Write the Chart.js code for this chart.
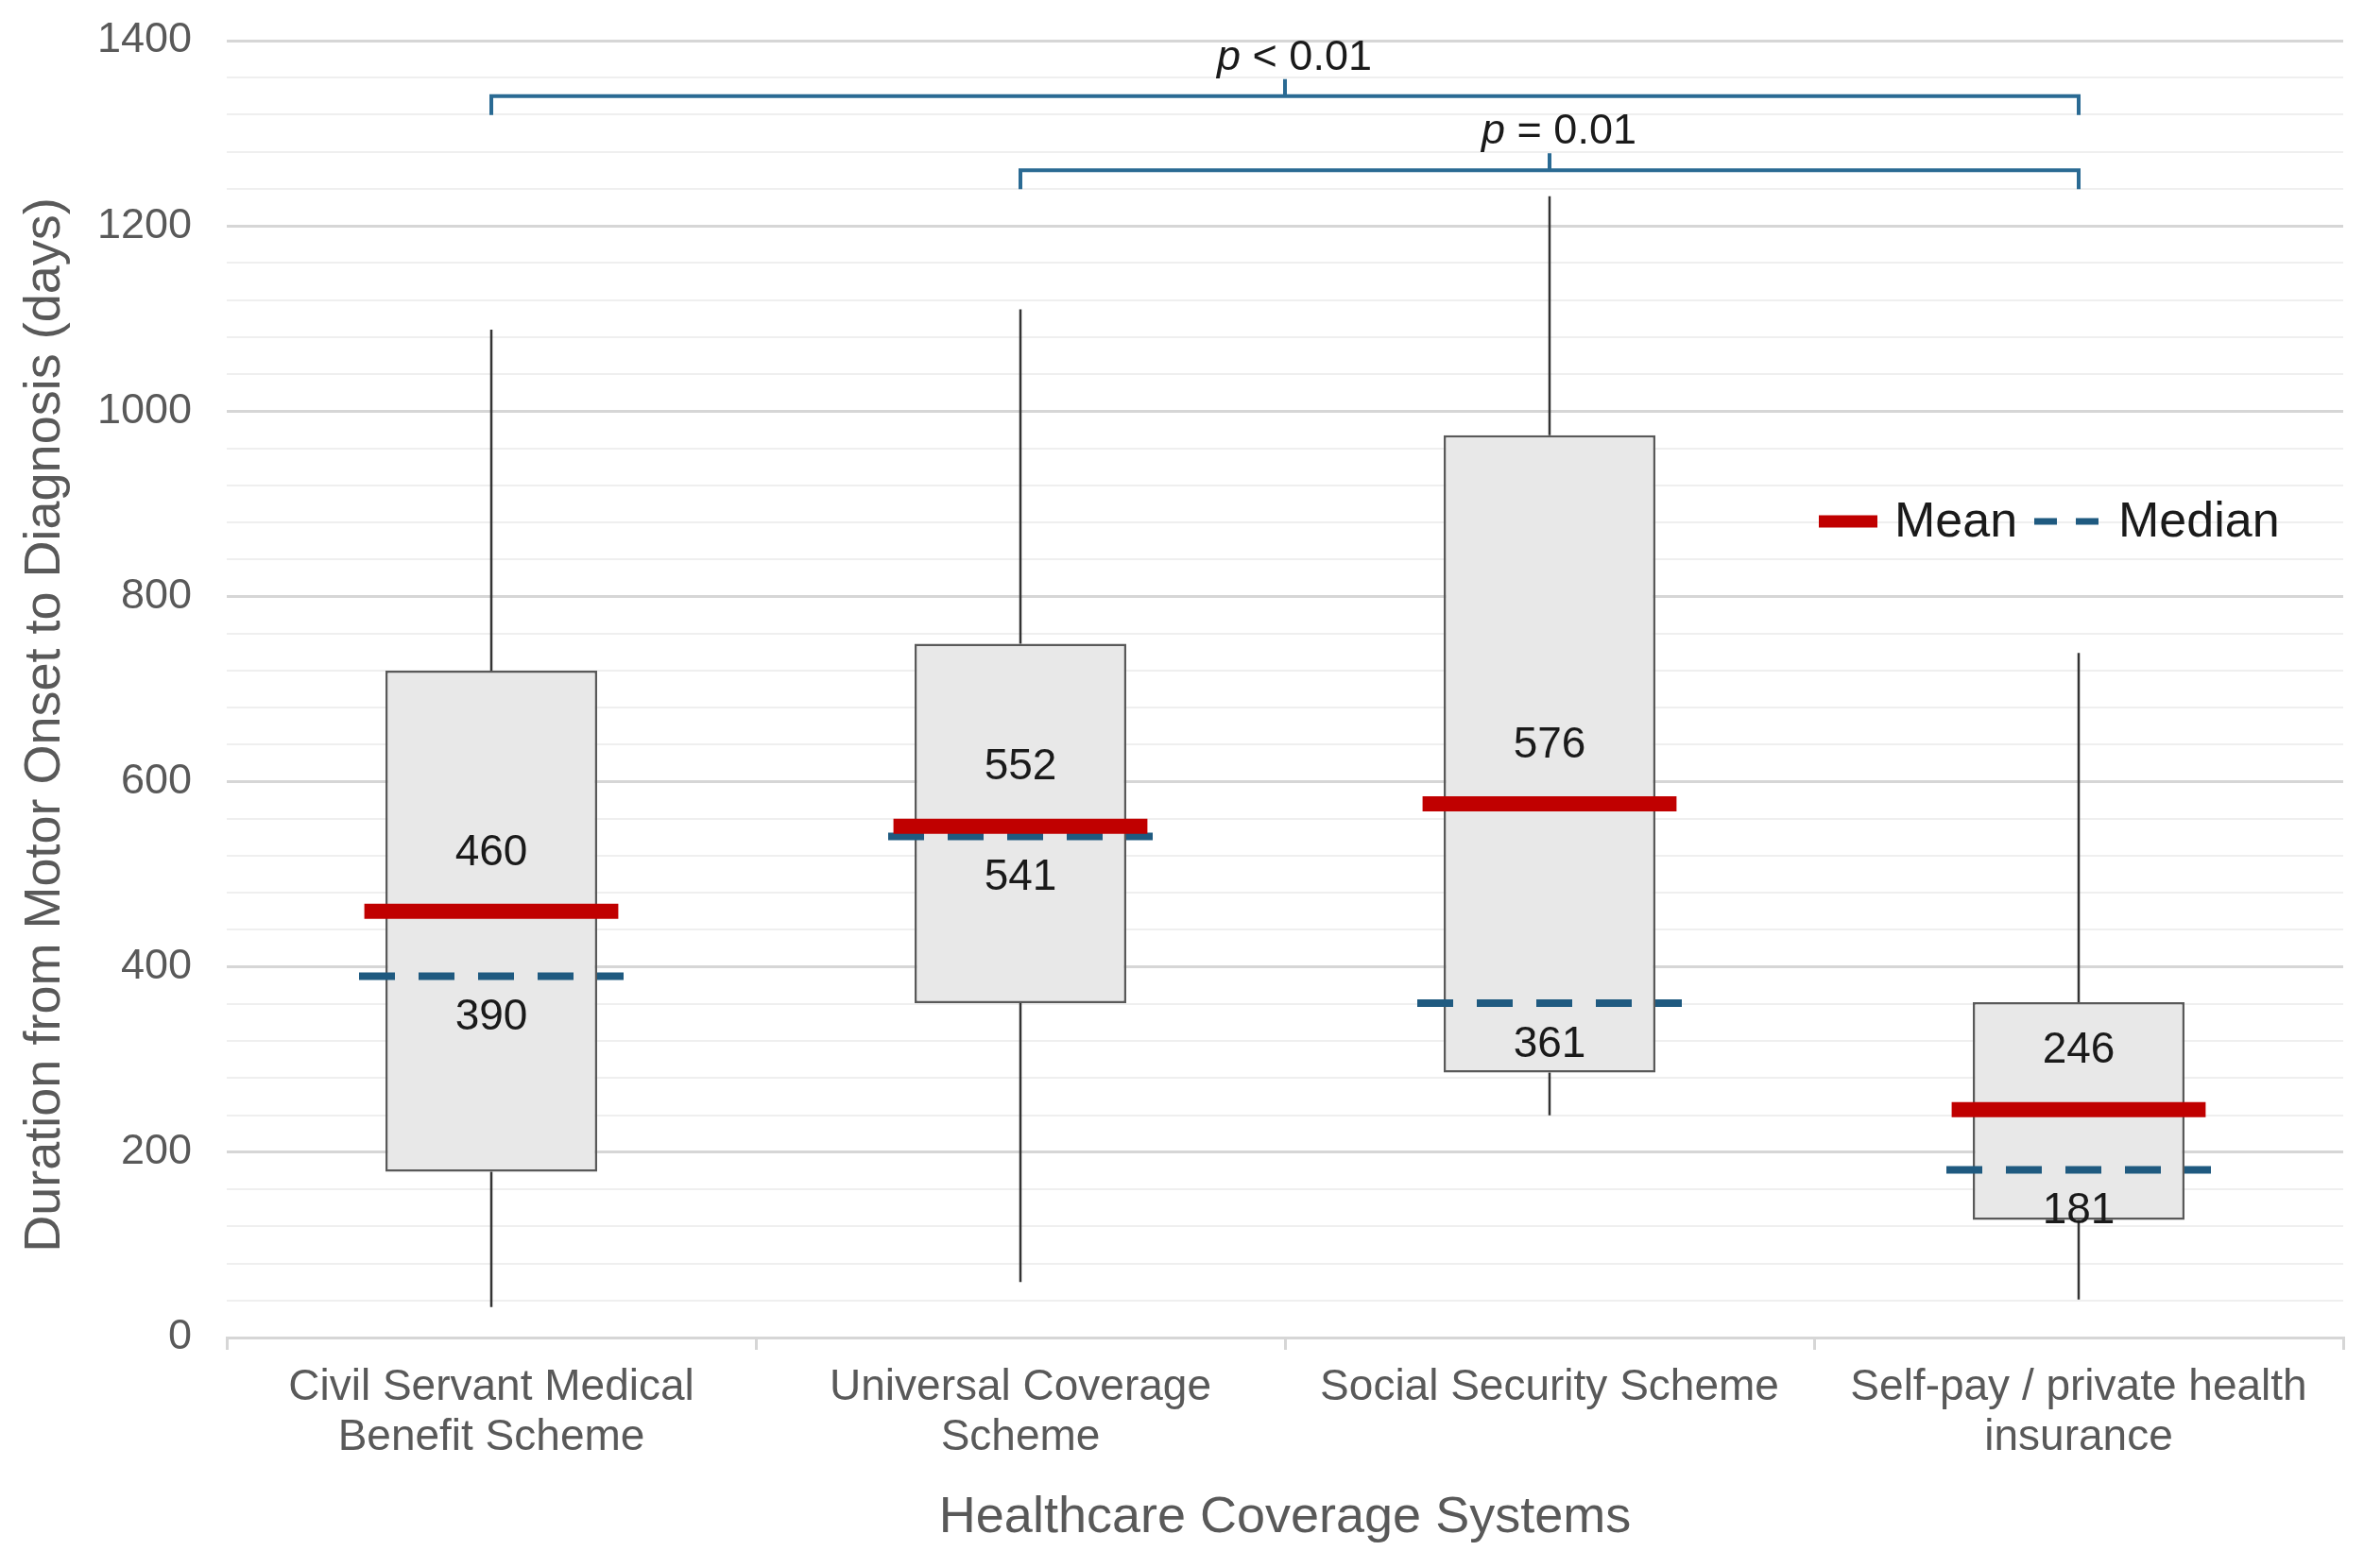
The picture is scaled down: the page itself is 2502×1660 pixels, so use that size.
<!DOCTYPE html>
<html>
<head>
<meta charset="utf-8">
<script src="https://cdn.jsdelivr.net/npm/chart.js@4/dist/chart.umd.min.js"></script>
<style>
html,body{margin:0;padding:0;background:#fff;}
#wrap{width:2502px;height:1660px;}
</style>
</head>
<body>
<div id="wrap"><canvas id="c" width="2502" height="1660"></canvas></div>
<script>
// ---- data ----
const categories = [
  ['Civil Servant Medical', 'Benefit Scheme'],
  ['Universal Coverage', 'Scheme'],
  ['Social Security Scheme'],
  ['Self-pay / private health', 'insurance']
];
const whiskerLow  = [33, 60, 240, 41];
const q1          = [179, 361, 286, 127];
const q3          = [720, 749, 974, 362];
const whiskerHigh = [1088, 1110, 1232, 739];
const meanValues   = [460, 552, 576, 246];
const medianValues = [390, 541, 361, 181];
const yTicksMajor = [0, 200, 400, 600, 800, 1000, 1200, 1400];
const bracketFrom  = [0, 1];
const bracketTo    = [3, 3];
const bracketLevel = [1340, 1260];
const bracketText  = ['< 0.01', '= 0.01'];
const legendLabels = ['Mean', 'Median'];
const yTitle = 'Duration from Motor Onset to Diagnosis (days)';

const FONT = '"Liberation Sans", Arial, sans-serif';
const GREY = '#595959';
const RED = '#c00000';
const BLUE = '#1f5a80';
const BRACKET = '#2a6a93';

const overlay = {
  id: 'overlay',
  beforeDatasetsDraw(chart) {
    const ctx = chart.ctx, x = chart.scales.x, y = chart.scales.y;
    const area = chart.chartArea;
    ctx.save();
    // y axis title
    ctx.fillStyle = GREY;
    ctx.font = '54px ' + FONT;
    ctx.textAlign = 'center';
    ctx.textBaseline = 'middle';
    ctx.translate(48, (area.top + area.bottom) / 2 + 38);
    ctx.rotate(-Math.PI / 2);
    ctx.fillText(yTitle, 0, 0);
    ctx.restore();
    ctx.save();
    ctx.strokeStyle = '#333333';
    ctx.lineWidth = 2.5;
    for (let i = 0; i < categories.length; i++) {
      const px = Math.round(x.getPixelForValue(i));
      ctx.beginPath();
      ctx.moveTo(px, y.getPixelForValue(whiskerLow[i]));
      ctx.lineTo(px, y.getPixelForValue(q1[i]));
      ctx.moveTo(px, y.getPixelForValue(q3[i]));
      ctx.lineTo(px, y.getPixelForValue(whiskerHigh[i]));
      ctx.stroke();
    }
    ctx.restore();
  },
  afterDatasetsDraw(chart) {
    const ctx = chart.ctx, x = chart.scales.x, y = chart.scales.y;
    const area = chart.chartArea;
    const catW = (area.right - area.left) / categories.length;
    ctx.save();
    for (let i = 0; i < categories.length; i++) {
      const px = x.getPixelForValue(i);
      // median dashed
      const ym = y.getPixelForValue(medianValues[i]);
      ctx.strokeStyle = BLUE;
      ctx.lineWidth = 8;
      ctx.setLineDash([38, 25]);
      ctx.beginPath();
      ctx.moveTo(px - catW * 0.25, ym);
      ctx.lineTo(px + catW * 0.25, ym);
      ctx.stroke();
      ctx.setLineDash([]);
      // mean solid
      const ya = y.getPixelForValue(meanValues[i]);
      ctx.strokeStyle = RED;
      ctx.lineWidth = 16;
      ctx.beginPath();
      ctx.moveTo(px - catW * 0.24, ya);
      ctx.lineTo(px + catW * 0.24, ya);
      ctx.stroke();
      // labels
      ctx.fillStyle = '#1a1a1a';
      ctx.font = '46px ' + FONT;
      ctx.textAlign = 'center';
      ctx.textBaseline = 'middle';
      ctx.fillText(String(meanValues[i]), px, ya - 62);
      ctx.fillText(String(medianValues[i]), px, ym + 44);
    }
    // brackets
    for (let b = 0; b < bracketFrom.length; b++) {
      const x1 = x.getPixelForValue(bracketFrom[b]);
      const x2 = x.getPixelForValue(bracketTo[b]);
      const by = y.getPixelForValue(bracketLevel[b]);
      const mid = (x1 + x2) / 2;
      ctx.strokeStyle = BRACKET;
      ctx.lineWidth = 4;
      ctx.beginPath();
      ctx.moveTo(x1, by + 20);
      ctx.lineTo(x1, by);
      ctx.lineTo(x2, by);
      ctx.lineTo(x2, by + 20);
      ctx.moveTo(mid, by);
      ctx.lineTo(mid, by - 18);
      ctx.stroke();
      // text: italic p + rest
      ctx.fillStyle = '#1a1a1a';
      ctx.textBaseline = 'alphabetic';
      ctx.textAlign = 'left';
      const pf = 'italic 45px ' + FONT;
      const rf = '45px ' + FONT;
      ctx.font = pf; const wp = ctx.measureText('p').width;
      ctx.font = rf; const wr = ctx.measureText(' ' + bracketText[b]).width;
      const tx = mid + 10 - (wp + wr) / 2;
      const ty = by - 28;
      ctx.font = pf; ctx.fillText('p', tx, ty);
      ctx.font = rf; ctx.fillText(' ' + bracketText[b], tx + wp, ty);
    }
    // legend
    const ly = area.top + 509;
    const lx = area.right - 555;
    ctx.strokeStyle = RED;
    ctx.lineWidth = 13;
    ctx.beginPath();
    ctx.moveTo(lx, ly); ctx.lineTo(lx + 62, ly); ctx.stroke();
    ctx.fillStyle = '#1a1a1a';
    ctx.font = '52px ' + FONT;
    ctx.textAlign = 'left';
    ctx.textBaseline = 'middle';
    ctx.fillText(legendLabels[0], lx + 80, ly + 2);
    ctx.strokeStyle = BLUE;
    ctx.lineWidth = 7;
    ctx.setLineDash([24, 20]);
    ctx.beginPath();
    ctx.moveTo(lx + 228, ly); ctx.lineTo(lx + 297, ly); ctx.stroke();
    ctx.setLineDash([]);
    ctx.fillText(legendLabels[1], lx + 317, ly + 2);
    ctx.restore();
  }
};

new Chart(document.getElementById('c'), {
  type: 'bar',
  data: {
    labels: categories,
    datasets: [{
      data: categories.map((c, i) => [q1[i], q3[i]]),
      backgroundColor: '#e8e8e8',
      borderColor: GREY,
      borderWidth: 2.5,
      borderSkipped: false,
      barPercentage: 0.4,
      categoryPercentage: 1.0
    }]
  },
  options: {
    responsive: false,
    animation: false,
    devicePixelRatio: 1,
    events: [],
    layout: { padding: { top: 43, right: 22, left: 0, bottom: 0 } },
    plugins: { legend: { display: false }, tooltip: { enabled: false } },
    scales: {
      y: {
        min: 0, max: 1400,
        afterFit(s) { s.width = 240; s.paddingTop = 0; s.paddingBottom = 0; },
        ticks: {
          stepSize: 40,
          autoSkip: false,
          padding: 37,
          color: GREY,
          font: { size: 45, family: FONT },
          callback: v => (yTicksMajor.includes(v) ? String(v) : '')
        },
        grid: {
          drawTicks: false,
          color: ctx => (yTicksMajor.includes(ctx.tick.value) ? '#d6d6d6' : '#efefef'),
          lineWidth: ctx => (yTicksMajor.includes(ctx.tick.value) ? 3 : 2)
        },
        border: { display: false },
        title: { display: false }
      },
      x: {
        afterFit(s) { s.height = 244; },
        ticks: {
          color: GREY,
          padding: 14,
          font: { size: 46, family: FONT, lineHeight: 1.15 }
        },
        grid: {
          offset: true,
          drawOnChartArea: false,
          drawTicks: true,
          tickLength: 13,
          color: '#d6d6d6',
          lineWidth: 3
        },
        border: { display: true, color: '#d6d6d6', width: 3 },
        title: {
          display: true,
          text: 'Healthcare Coverage Systems',
          color: GREY,
          font: { size: 54, family: FONT },
          padding: { top: 0, bottom: 20 }
        }
      }
    }
  },
  plugins: [overlay]
});
</script>
</body>
</html>
